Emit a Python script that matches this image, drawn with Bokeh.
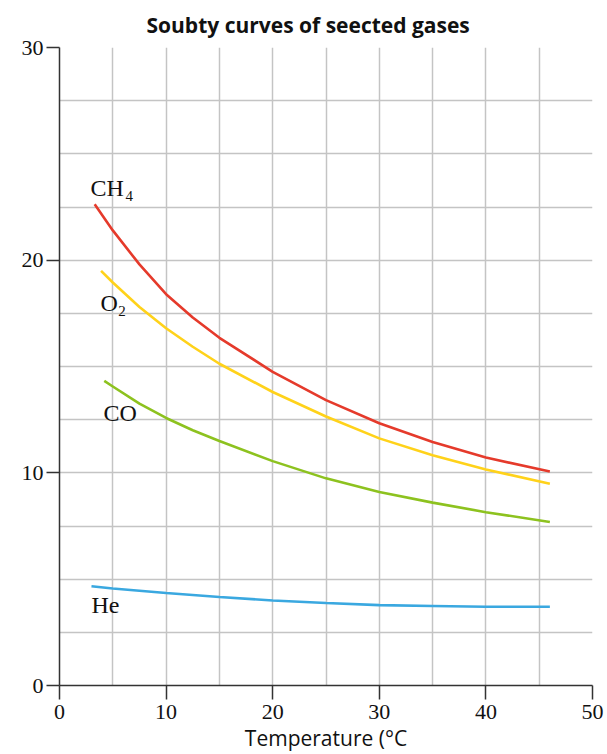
from bokeh.plotting import figure
from bokeh.models import FixedTicker
from bokeh.core.properties import value
from bokeh.embed import file_html
from bokeh.resources import INLINE

# ---- data ----
ch4_x = [3.3, 5, 7.5, 10, 12.5, 15, 20, 25, 30, 35, 40, 46]
ch4_y = [22.63, 21.4, 19.8, 18.4, 17.3, 16.35, 14.75, 13.42, 12.33, 11.45, 10.72, 10.06]

o2_x = [3.9, 5, 7.5, 10, 12.5, 15, 20, 25, 30, 35, 40, 46]
o2_y = [19.5, 18.95, 17.8, 16.8, 15.93, 15.13, 13.8, 12.65, 11.62, 10.83, 10.16, 9.49]

co_x = [4.2, 5, 7.5, 10, 12.5, 15, 20, 25, 30, 35, 40, 46]
co_y = [14.32, 14.06, 13.25, 12.58, 12.0, 11.5, 10.55, 9.74, 9.1, 8.6, 8.15, 7.69]

he_x = [3, 5, 10, 15, 20, 25, 30, 35, 40, 46]
he_y = [4.67, 4.56, 4.35, 4.16, 4.0, 3.88, 3.78, 3.74, 3.70, 3.70]

x_ticks = [0, 10, 20, 30, 40, 50]
y_ticks = [0, 10, 20, 30]
x_grid = [0, 5, 10, 15, 20, 25, 30, 35, 40, 45, 50]
y_grid = [0, 2.5, 5, 7.5, 10, 12.5, 15, 17.5, 20, 22.5, 25, 27.5, 30]

label_text = ["CH", "O", "CO", "He"]
label_x = [2.91, 3.84, 4.12, 3.0]
label_y = [23.4, 18.0, 12.82, 3.8]
sub_text = ["4", "2"]
sub_x = [6.2, 5.5]
sub_y = [23.0, 17.62]

title_text = "Soubty curves of seected gases"
x_label = "Temperature (°C"

# ---- figure ----
p = figure(width=607, height=754, x_range=(0, 50), y_range=(0, 30),
           output_backend="svg", toolbar_location=None,
           min_border_left=59, min_border_right=15,
           min_border_top=47, min_border_bottom=67,
           title=title_text)
p.outline_line_color = None
p.background_fill_color = "white"
p.border_fill_color = "white"

p.title.text_font = "Open Sans"
p.title.text_font_style = "bold"
p.title.text_font_size = "21px"
p.title.text_color = "#111111"
p.title.align = "left"
p.title.offset = 87
p.title.standoff = 14
p.title.vertical_align = "top"

for ax in (p.xaxis[0], p.yaxis[0]):
    ax.axis_line_color = "#333333"
    ax.axis_line_width = 1.5
    ax.major_tick_line_color = "#333333"
    ax.major_tick_line_width = 1.5
    ax.major_tick_in = 0
    ax.minor_tick_line_color = None
    ax.major_label_text_font = "Liberation Serif"
    ax.major_label_text_font_size = "22px"
    ax.major_label_text_color = "#111111"

p.xaxis.ticker = FixedTicker(ticks=x_ticks)
p.yaxis.ticker = FixedTicker(ticks=y_ticks)
p.xaxis.major_tick_out = 14
p.yaxis.major_tick_out = 13
p.xaxis.major_label_standoff = 5
p.yaxis.major_label_standoff = 3

p.xaxis.axis_label = x_label
p.xaxis.axis_label_text_font = "Open Sans"
p.xaxis.axis_label_text_font_style = "normal"
p.xaxis.axis_label_text_font_size = "21px"
p.xaxis.axis_label_text_color = "#111111"
p.xaxis.axis_label_standoff = 2

p.xgrid.ticker = FixedTicker(ticks=x_grid)
p.ygrid.ticker = FixedTicker(ticks=y_grid)
for g in (p.xgrid[0], p.ygrid[0]):
    g.grid_line_color = "#c4c4c4"
    g.grid_line_width = 1.5

p.line(ch4_x, ch4_y, line_color="#e53a2b", line_width=2.6)
p.line(o2_x, o2_y, line_color="#ffd21a", line_width=2.6)
p.line(co_x, co_y, line_color="#8dc21f", line_width=2.6)
p.line(he_x, he_y, line_color="#3aa8e0", line_width=2.6)

p.text(x=label_x, y=label_y, text=label_text,
       text_font=value("Liberation Serif"), text_font_size="24px",
       text_align="left", text_baseline="alphabetic", text_color="#111111")
p.text(x=sub_x, y=sub_y, text=sub_text,
       text_font=value("Liberation Serif"), text_font_size="15px",
       text_align="left", text_baseline="alphabetic", text_color="#111111")

open("out.html", "w").write(file_html(p, INLINE))
